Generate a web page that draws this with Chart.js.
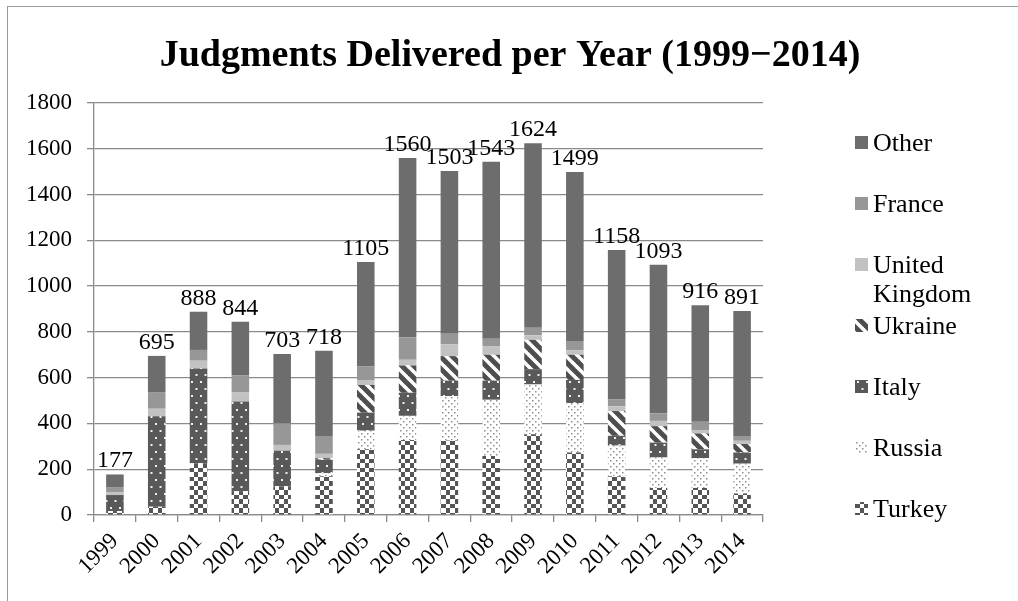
<!DOCTYPE html>
<html>
<head>
<meta charset="utf-8">
<script src="https://cdn.jsdelivr.net/npm/chart.js@4/dist/chart.umd.min.js"></script>
<style>
  html, body { margin: 0; padding: 0; background: #fff; }
  #wrap { position: relative; width: 1018px; height: 601px; overflow: hidden; }
  #frame { position: absolute; left: 7px; top: 6px; right: -10px; bottom: -10px;
           border-left: 1.5px solid #9a9a9a; border-top: 1.5px solid #9a9a9a; }
  canvas { position: absolute; left: 0; top: 0; }
</style>
</head>
<body>
<div id="wrap">
  <div id="frame"></div>
  <canvas id="chart" width="1018" height="601"></canvas>
</div>
<script>
// data
const years   = ['1999','2000','2001','2002','2003','2004','2005','2006','2007','2008','2009','2010','2011','2012','2013','2014'];
const turkey  = [17, 36, 226, 104, 125, 169, 287, 328, 325, 258, 353, 273, 169, 118, 118, 94];
const russia  = [0, 0, 0, 0, 0, 14, 81, 105, 194, 245, 217, 216, 134, 133, 130, 130];
const italy   = [70, 395, 414, 392, 156, 59, 79, 101, 68, 84, 67, 101, 43, 65, 39, 49];
const ukraine = [0, 0, 0, 0, 0, 6, 121, 119, 107, 113, 128, 110, 108, 72, 69, 37];
const uk      = [13, 33, 34, 41, 25, 19, 19, 25, 52, 36, 20, 20, 21, 23, 15, 14];
const france  = [22, 73, 47, 74, 94, 78, 62, 97, 46, 34, 33, 40, 30, 32, 36, 21];
const other   = [55, 158, 167, 233, 303, 373, 456, 785, 711, 773, 806, 739, 653, 650, 509, 546];
const yTicks  = [0, 200, 400, 600, 800, 1000, 1200, 1400, 1600, 1800];

const serif = "'Liberation Serif', 'Times New Roman', serif";
const titleText = 'Judgments Delivered per Year (1999\u22122014)';

// fill patterns
function makePattern(w, h, draw) {
  const c = document.createElement('canvas');
  c.width = w; c.height = h;
  const g = c.getContext('2d');
  draw(g, w, h);
  return g.createPattern(c, 'repeat');
}
const checker = makePattern(9, 9, (g) => {
  g.fillStyle = '#fff'; g.fillRect(0, 0, 9, 9);
  g.fillStyle = '#555'; g.fillRect(0, 0, 5, 4); g.fillRect(5, 4, 4, 5);
});
const lightDots = makePattern(6, 6, (g) => {
  g.fillStyle = '#fff'; g.fillRect(0, 0, 6, 6);
  g.fillStyle = '#8e8e8e'; g.fillRect(1, 1, 1.5, 1.5); g.fillRect(4, 4, 1.5, 1.5);
});
const darkDots = makePattern(9, 14, (g) => {
  g.fillStyle = '#595959'; g.fillRect(0, 0, 9, 14);
  g.fillStyle = '#f0f0f0'; g.fillRect(2, 3, 2, 2); g.fillRect(6.5, 10, 2, 2);
});
const stripes = makePattern(12, 12, (g) => {
  g.fillStyle = '#fff'; g.fillRect(0, 0, 12, 12);
  g.strokeStyle = '#4e4e4e'; g.lineWidth = 5;
  for (let k = -1; k <= 1; k++) {
    g.beginPath(); g.moveTo(k * 12 - 6, -6); g.lineTo(k * 12 + 18, 18); g.stroke();
  }
});

const datasets = [
  { label: 'Turkey', data: turkey, backgroundColor: checker },
  { label: 'Russia', data: russia, backgroundColor: lightDots },
  { label: 'Italy', data: italy, backgroundColor: darkDots },
  { label: 'Ukraine', data: ukraine, backgroundColor: stripes },
  { label: ['United', 'Kingdom'], data: uk, backgroundColor: '#c2c2c2' },
  { label: 'France', data: france, backgroundColor: '#979797' },
  { label: 'Other', data: other, backgroundColor: '#6d6d6d' }
];

// title, centred on the page
const titlePlugin = {
  id: 'pageTitle',
  afterDraw(chart) {
    const ctx = chart.ctx;
    ctx.save();
    ctx.font = 'bold 38px ' + serif;
    ctx.fillStyle = '#000';
    ctx.textAlign = 'center';
    ctx.textBaseline = 'middle';
    ctx.fillText(titleText, 510, 56);
    ctx.restore();
  }
};

// totals above each column
const totalsPlugin = {
  id: 'totals',
  afterDatasetsDraw(chart) {
    const ctx = chart.ctx, xs = chart.scales.x, ys = chart.scales.y;
    ctx.save();
    ctx.font = '24px ' + serif;
    ctx.fillStyle = '#000';
    ctx.textAlign = 'center';
    ctx.textBaseline = 'alphabetic';
    years.forEach((y, i) => {
      const total = datasets.reduce((s, d) => s + d.data[i], 0);
      ctx.fillText(String(total), xs.getPixelForValue(i), ys.getPixelForValue(total) - 7);
    });
    ctx.restore();
  }
};

// legend on the right, Other at top
const legendPlugin = {
  id: 'sideLegend',
  afterDraw(chart) {
    const ctx = chart.ctx;
    const items = datasets.slice().reverse();
    let y = 142;
    ctx.save();
    ctx.font = '26px ' + serif;
    ctx.textBaseline = 'middle';
    items.forEach(d => {
      ctx.fillStyle = d.backgroundColor;
      ctx.fillRect(855, y - 6, 13, 13);
      ctx.fillStyle = '#000';
      const lines = Array.isArray(d.label) ? d.label : [d.label];
      lines.forEach((t, j) => ctx.fillText(t, 873, y + 2 + j * 29));
      y += 61;
    });
    ctx.restore();
  }
};

new Chart(document.getElementById('chart'), {
  type: 'bar',
  data: { labels: years, datasets: datasets },
  options: {
    responsive: false,
    animation: false,
    layout: { padding: { left: 25, right: 255, top: 103, bottom: 15 } },
    datasets: { bar: { barPercentage: 0.42, categoryPercentage: 1 } },
    plugins: {
      legend: { display: false },
      tooltip: { enabled: false },
      title: { display: false }
    },
    scales: {
      x: {
        stacked: true,
        grid: { drawOnChartArea: false, drawTicks: true, tickLength: 7, color: '#8a8a8a', lineWidth: 1.3 },
        border: { color: '#8a8a8a', width: 1.3 },
        ticks: { color: '#000', font: { family: serif, size: 23 }, minRotation: 45, maxRotation: 45,
                 autoSkip: false, padding: 6 }
      },
      y: {
        stacked: true,
        min: 0, max: yTicks[yTicks.length - 1],
        afterBuildTicks: s => { s.ticks = yTicks.map(v => ({ value: v })); },
        afterFit: s => { s.width = 69; },
        grid: { color: '#8a8a8a', lineWidth: 1.3, tickLength: 7 },
        border: { color: '#8a8a8a', width: 1.3 },
        ticks: { color: '#000', font: { family: serif, size: 23 }, padding: 15, callback: v => String(v) }
      }
    }
  },
  plugins: [totalsPlugin, legendPlugin, titlePlugin]
});
</script>
</body>
</html>
